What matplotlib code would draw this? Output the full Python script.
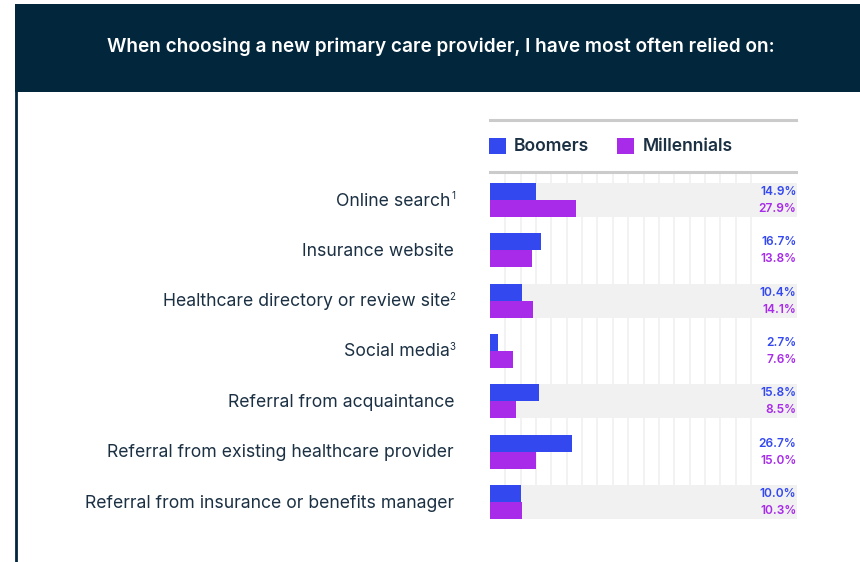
import matplotlib
matplotlib.use("Agg")
import matplotlib.pyplot as plt
from matplotlib.patches import Rectangle
from matplotlib.lines import Line2D

plt.rcParams['font.family'] = ['Inter', 'DejaVu Sans']

# Survey responses (% of respondents)
categories = [
    "Online search",
    "Insurance website",
    "Healthcare directory or review site",
    "Social media",
    "Referral from acquaintance",
    "Referral from existing healthcare provider",
    "Referral from insurance or benefits manager",
]
footnotes = ["1", "", "2", "3", "", "", ""]
boomers = [14.9, 16.7, 10.4, 2.7, 15.8, 26.7, 10.0]
millennials = [27.9, 13.8, 14.1, 7.6, 8.5, 15.0, 10.3]
series_names = ["Boomers", "Millennials"]

title = "When choosing a new primary care provider, I have most often relied on:"

NAVY = "#02263B"
TEXT = "#1B3043"
BLUE = "#3448F0"
PURPLE = "#A72BE8"
BAND = "#F1F1F1"
GRID = "#F2F2F2"
RULE = "#CBCBCB"

W, H = 860, 562
fig = plt.figure(figsize=(W / 100, H / 100), dpi=100)
fig.patch.set_facecolor("white")


def fx(px):
    return px / W


def fy(py):
    return 1 - py / H


# Header band and left border
fig.patches.append(Rectangle((fx(15), fy(92)), fx(W - 15), (92 - 4) / H,
                             transform=fig.transFigure, facecolor=NAVY,
                             edgecolor="none", zorder=0))
fig.add_artist(Line2D([fx(16), fx(16)], [fy(92), fy(H)], color=NAVY,
                      linewidth=2, transform=fig.transFigure))
fig.text(fx(441), fy(47), title, color="white", fontsize=13.7,
         fontweight="semibold", ha="center", va="center")

# Plot area: x from 490px to 797px, y from 172px to 519px
x0, x1 = 490, 797
y_top, y_bot = 172, 519
ax = fig.add_axes([fx(x0), fy(y_bot), fx(x1 - x0), (y_bot - y_top) / H])
pitch = (502 - 200) / 6
ax.set_xlim(0, 100)
ax.set_ylim(6 + (y_bot - 502) / pitch, -(200 - y_top) / pitch)
ax.axis("off")

n = len(categories)
band_h = 34 / pitch
bar_h = band_h / 2

# Vertical gridlines
for g in range(5, 90, 5):
    ax.axvline(g, color=GRID, linewidth=1.4, zorder=0)

for i in range(n):
    if i % 2 == 0:
        ax.add_patch(Rectangle((0, i - band_h / 2), 100, band_h,
                               facecolor=BAND, edgecolor="none", zorder=1))

ypos = list(range(n))
ax.barh([y - bar_h / 2 for y in ypos], boomers, height=bar_h,
        color=BLUE, zorder=2, align="center")
ax.barh([y + bar_h / 2 for y in ypos], millennials, height=bar_h,
        color=PURPLE, zorder=2, align="center")

for i in range(n):
    ax.text(99.8, i - bar_h / 2 + 0.01, f"{boomers[i]:.1f}%", color=BLUE,
            fontsize=8.6, fontweight="semibold", ha="right", va="center",
            zorder=3)
    ax.text(99.8, i + bar_h / 2 + 0.01, f"{millennials[i]:.1f}%",
            color=PURPLE, fontsize=8.6, fontweight="semibold", ha="right",
            va="center", zorder=3)
    yc = ax.transData.transform((0, i))[1] / fig.bbox.height - 1 / H
    right = 454
    if footnotes[i]:
        fig.text(fx(455), yc + 5 / H, footnotes[i], color=TEXT, fontsize=7,
                 ha="right", va="center")
        right = 450
    fig.text(fx(right), yc, categories[i], color=TEXT, fontsize=12.7,
             ha="right", va="center")

# Legend with rules above and below
for yy in (120, 172):
    fig.add_artist(Line2D([fx(490), fx(796)], [fy(yy), fy(yy)], color=RULE,
                          linewidth=2.2, transform=fig.transFigure))
fig.patches.append(Rectangle((fx(489), fy(154)), fx(17), 16 / H,
                             transform=fig.transFigure, facecolor=BLUE,
                             edgecolor="none"))
fig.text(fx(514), fy(146.5), series_names[0], color=TEXT, fontsize=12.6,
         fontweight="semibold", ha="left", va="center")
fig.patches.append(Rectangle((fx(617), fy(154)), fx(17), 16 / H,
                             transform=fig.transFigure, facecolor=PURPLE,
                             edgecolor="none"))
fig.text(fx(643), fy(146.5), series_names[1], color=TEXT, fontsize=12.6,
         fontweight="semibold", ha="left", va="center")

fig.savefig("out.png", dpi=100)
